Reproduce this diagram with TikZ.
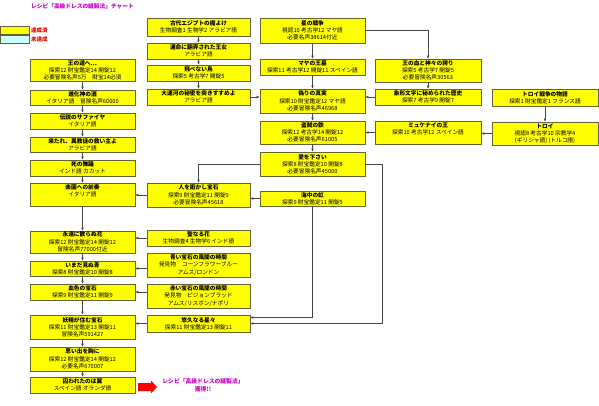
\documentclass[tikz,border=0pt]{standalone}
\usepackage{fontspec}
\setmainfont{Noto Sans CJK JP}
\usetikzlibrary{arrows.meta}
\definecolor{boxy}{RGB}{255,255,0}
\definecolor{boxline}{RGB}{100,100,50}
\definecolor{arrc}{RGB}{70,70,70}
\definecolor{mag}{RGB}{204,0,204}
\definecolor{legred}{RGB}{230,0,0}
\definecolor{legcyan}{RGB}{204,255,255}
\begin{document}
\begin{tikzpicture}[x=1pt,y=-1pt,
 box/.style={draw=boxline, line width=0.6pt, fill=boxy, align=center, inner sep=0pt, font=\fontsize{5.7}{7.2}\selectfont},
 colL/.style={box, minimum width=105pt},
 colM/.style={box, minimum width=103pt},
 colC/.style={box, minimum width=105pt},
 colR/.style={box, minimum width=106pt},
 arr/.style={draw=arrc, line width=0.5pt, -{Latex[length=3pt,width=2.6pt]}},
 legtxt/.style={anchor=west, inner sep=0pt, text=legred, font=\fontsize{5.5}{7}\selectfont\bfseries},
]
\fill[white] (0,0) rectangle (599,406);
\useasboundingbox (0,0) rectangle (599,406);

% title and legend
\node[anchor=west, inner sep=0pt, text=mag, font=\fontsize{5.7}{7}\selectfont\bfseries] (title) at (31,6) {レシピ「高級ドレスの縫製法」チャート};
\node[draw=boxline, line width=0.5pt, fill=boxy, minimum width=29pt, minimum height=7.5pt, inner sep=0pt] (leg1) at (14.5,30.5) {};
\node[draw=boxline, line width=0.5pt, fill=legcyan, minimum width=29pt, minimum height=7.5pt, inner sep=0pt] (leg2) at (14.5,39.5) {};
\node[legtxt] (leg1t) at (31,30.5) {達成済};
\node[legtxt] (leg2t) at (31,39.5) {未達成};

% left column
\node[colL, minimum height=22pt] (L1) at (82.5,70.5) {\textbf{王の道へ…}\\探索12 財宝鑑定14 開錠12\\必要冒険名声5万　財宝14必須};
\node[colL, minimum height=15pt] (L2) at (82.5,97.5) {\textbf{進化神の酒}\\イタリア語　冒険名声60000};
\node[colL, minimum height=16pt] (L3) at (82.5,121) {\textbf{伝説のサファイヤ}\\イタリア語};
\node[colL, minimum height=15pt] (L4) at (82.5,144.5) {\textbf{来たれ、異教徒の救い主よ}\\アラビア語};
\node[colL, minimum height=16pt] (L5) at (82.5,168) {\textbf{死の舞踊}\\インド語 カカット};
\node[colL, minimum height=23pt] (L6) at (82.5,194.5) {\textbf{楽園への前奏}\\イタリア語\\\mbox{}};
\node[colL, minimum height=22pt] (L7) at (82.5,242) {\textbf{永遠に散らぬ花}\\探索12 財宝鑑定14 開錠12\\冒険名声77000付近};
\node[colL, minimum height=15pt] (L8) at (82.5,268.5) {\textbf{いまだ見ぬ青}\\探索8 財宝鑑定10 開錠8};
\node[colL, minimum height=16pt] (L9) at (82.5,292) {\textbf{血色の宝石}\\探索9 財宝鑑定11 開錠9};
\node[colL, minimum height=24pt] (L10) at (82.5,327) {\textbf{妖精が住む宝石}\\探索11 財宝鑑定13 開錠11\\冒険名声591427};
\node[colL, minimum height=24pt] (L11) at (82.5,359) {\textbf{思い出を胸に}\\探索12 財宝鑑定14 開錠12\\必要名声670007};
\node[colL, minimum height=16pt] (L12) at (82.5,385) {\textbf{囚われたのは翼}\\スペイン語 オランダ語};

% middle column
\node[colM, minimum height=18pt] (A) at (198.5,27) {\textbf{古代エジプトの魔よけ}\\生物調査1 生物学2 アラビア語};
\node[colM, minimum height=16pt] (B) at (198.5,51) {\textbf{運命に翻弄された王女}\\アラビア語};
\node[colM, minimum height=16pt] (C) at (198.5,73) {\textbf{飛べない鳥}\\探索5 考古学7 開錠5};
\node[colM, minimum height=16pt] (D) at (198.5,97) {\textbf{大運河の秘密を突きすすめよ}\\アラビア語};
\node[colM, minimum height=24pt] (E) at (198.5,195) {\textbf{人を誑かし宝石}\\探索9 財宝鑑定11 開錠9\\必要冒険名声45618};
\node[colM, minimum height=16pt] (F) at (198.5,238) {\textbf{聖なる花}\\生物調査4 生物学6 インド語};
\node[colM, minimum height=24pt] (G) at (198.5,265) {\textbf{青い宝石の風聞の時間}\\発見物　コーンフラワーブルー\\アムス/ロンドン};
\node[colM, minimum height=24pt] (H) at (198.5,296) {\textbf{赤い宝石の風聞の時間}\\発見物　ピジョンブラッド\\アムス/リスボン/ナポリ};
\node[colM, minimum height=17pt] (I) at (198.5,323.5) {\textbf{悠久なる星々}\\探索11 財宝鑑定13 開錠11};

% centre column
\node[colC, minimum height=25pt] (J) at (312.5,30.5) {\textbf{星の戦争}\\視認10 考古学12 マヤ語\\必要名声38614付近};
\node[colC, minimum height=16pt] (K) at (312.5,67) {\textbf{マヤの王墓}\\探索11 考古学12 開錠11 スペイン語};
\node[colC, minimum height=24pt] (Lv) at (312.5,101) {\textbf{偽りの真実}\\探索10 財宝鑑定12 マヤ語\\必要冒険名声46968};
\node[colC, minimum height=23pt] (M) at (312.5,132.5) {\textbf{盗賊の鉄}\\探索12 考古学14 開錠12\\必要冒険名声61005};
\node[colC, minimum height=24pt] (N) at (312.5,164) {\textbf{愛を下さい}\\探索8 財宝鑑定10 開錠8\\必要冒険名声45000};
\node[colC, minimum height=15pt] (O) at (312.5,198.5) {\textbf{海中の虹}\\探索9 財宝鑑定11 開錠9};

% right columns
\node[colR, minimum height=23pt] (P) at (428,70.5) {\textbf{王の血と神々の誇り}\\探索5 考古学7 開錠5\\必要冒険名声30563};
\node[colR, minimum height=16pt] (Q) at (428,97) {\textbf{象形文字に秘められた歴史}\\探索7 考古学9 開錠7};
\node[colR, minimum height=23pt] (S) at (428,132.5) {\textbf{ミュケナイの王}\\探索10 考古学12 スペイン語\\\mbox{}};
\node[colR, minimum height=17pt] (R) at (545,97.5) {\textbf{トロイ戦争の物語}\\探索1 財宝鑑定1 フランス語};
\node[colR, minimum height=23pt] (T) at (545,133.5) {\textbf{トロイ}\\視認8 考古学10 宗教学4\\(ギリシャ語) (トルコ語)};

% goal
\fill[red] (138,383) -- (151,383) -- (151,380.5) -- (157,387) -- (151,393.5) -- (151,391) -- (138,391) -- cycle;
\node[text=mag, align=center, inner sep=0pt, font=\fontsize{5.8}{8}\selectfont\bfseries] (goal) at (203,385) {レシピ「高級ドレスの縫製法」\\獲得!!};

% connectors: left column
\draw[arr] (L1.south) -- (L2.north);
\draw[arr] (L2.south) -- (L3.north);
\draw[arr] (L3.south) -- (L4.north);
\draw[arr] (L4.south) -- (L5.north);
\draw[arr] (L5.south) -- (L6.north);
\draw[arr] (L6.south) -- (L7.north);
\draw[arr] (L7.south) -- (L8.north);
\draw[arr] (L8.south) -- (L9.north);
\draw[arr] (L9.south) -- (L10.north);
\draw[arr] (L10.south) -- (L11.north);
\draw[arr] (L11.south) -- (L12.north);

% middle column
\draw[arr] (A.south) -- (B.north);
\draw[arr] (B.south) -- (C.north);
\draw[arr] (C.south) -- (D.north);
\draw[arr] (D.east) -- (D.east -| Lv.west);

% centre column
\draw[arr] (J.south) -- (K.north);
\draw[arr] (K.south) -- (Lv.north);
\draw[arr] (Lv.south) -- (M.north);
\draw[arr] (M.south) -- (N.north);
\draw[arr] (J.east) -| (P.north);
\draw[arr] (P.south) -- (Q.north);
\draw[arr] (Q.west) -- (Q.west -| Lv.east);
\draw[arr] (S.west) -- (S.west -| M.east);
\draw[arr] (R.south) -- (T.north);
\draw[arr] (T.west) -- (T.west -| S.east);

% feeding the left column
\draw[arr] (N.west) -| (E.north);
\draw[arr] (O.west) -- (O.west -| E.east);
\draw[arr] (E.west) -- (E.west -| L6.east);
\draw[arr] (F.west) -- (F.west -| L7.east);
\draw[arr] (G.west |- L8.east) -- (L8.east);
\draw[arr] (H.west |- L9.east) -- (L9.east);
\draw[arr] (I.west) -- (I.west -| L10.east);
\draw[arr] (O.south) |- ([yshift=6pt]I.east);
\draw[arr] (N.east) -- ++(17,0) |- (I.east);
\end{tikzpicture}
\end{document}
